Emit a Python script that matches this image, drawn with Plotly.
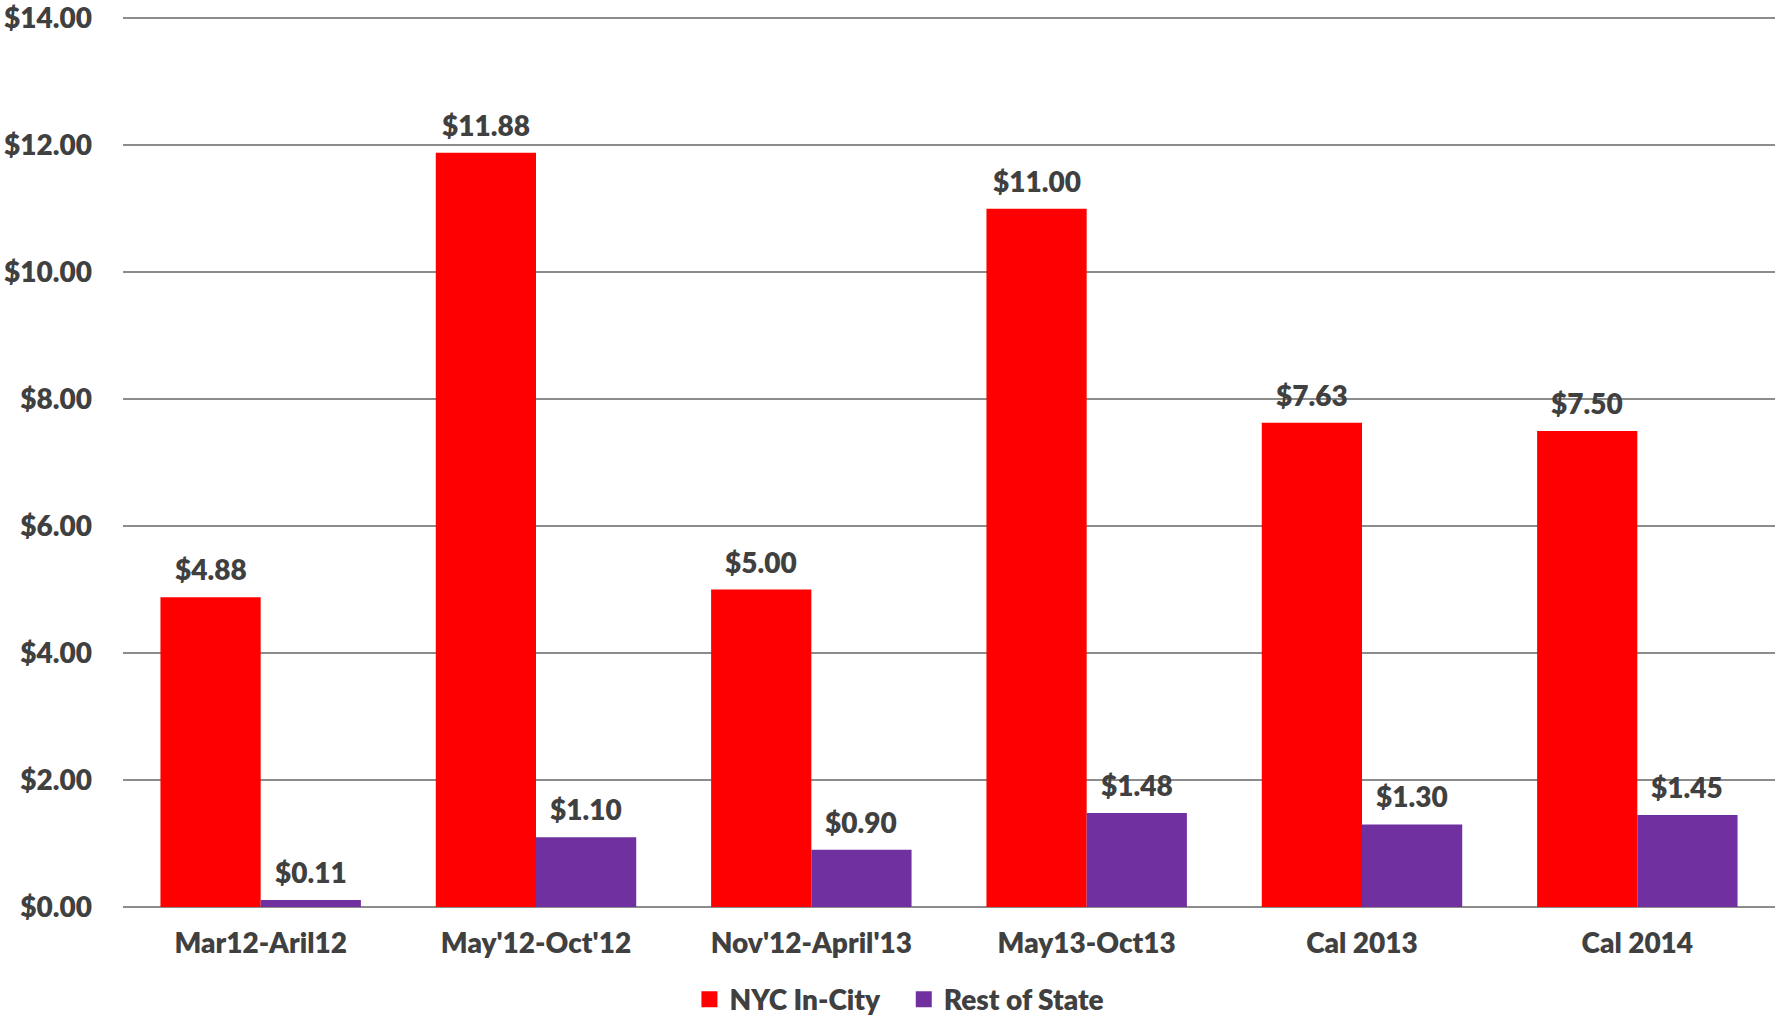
import plotly.graph_objects as go

categories = ["Mar12-Aril12", "May'12-Oct'12", "Nov'12-April'13", "May13-Oct13", "Cal 2013", "Cal 2014"]
nyc_values = [4.88, 11.88, 5.00, 11.00, 7.63, 7.50]
rest_values = [0.11, 1.10, 0.90, 1.48, 1.30, 1.45]
series_names = ["NYC In-City", "Rest of State"]
series_colors = ["#FF0000", "#7030A0"]
y_ticks = [0, 2, 4, 6, 8, 10, 12, 14]

FONT = "Lato"
TXT = "#404040"
FS = 28
W = 800

fig = go.Figure()
for i, (name, vals, col) in enumerate(zip(series_names, [nyc_values, rest_values], series_colors)):
    fig.add_trace(go.Bar(
        x=categories, y=vals, name=name, marker=dict(color=col, line=dict(width=0)),
        showlegend=False, cliponaxis=False,
    ))
    fig.add_trace(go.Scatter(
        x=[None], y=[None], mode="markers",
        name=name + ("\u00a0\u00a0\u00a0" if i == 0 else ""),
        marker=dict(symbol="square", size=16, color=col), showlegend=True,
    ))

annotations = []
for vals, shift in [(nyc_values, -50), (rest_values, 50)]:
    for c, v in zip(categories, vals):
        annotations.append(dict(
            x=c, y=v, xref="x", yref="y", text=f"${v:.2f}", showarrow=False,
            xshift=shift, yshift=9, yanchor="bottom",
            font=dict(family=FONT, size=FS, color=TXT, weight=W),
        ))

fig.update_layout(
    width=1775, height=1017,
    margin=dict(l=123, r=0, t=17, b=110, autoexpand=False),
    paper_bgcolor="white", plot_bgcolor="white",
    barmode="group", bargap=0.272, bargroupgap=0,
    font=dict(family=FONT, size=FS, color=TXT, weight=W),
    annotations=annotations,
    legend=dict(orientation="h", x=0.47, xanchor="center", y=-0.104, yanchor="middle",
                font=dict(family=FONT, size=FS, color=TXT, weight=W),
                itemsizing="trace", traceorder="normal", itemwidth=30),
    xaxis=dict(showgrid=False, showline=False, ticks="", automargin=False,
               ticklabelstandoff=17, tickfont=dict(size=FS, color=TXT, weight=W)),
    yaxis=dict(range=[0, 14.02], tickvals=y_ticks, ticktext=[f"${t:.2f}" for t in y_ticks],
               showgrid=True, gridcolor="#8C8C8C", gridwidth=1.5, zeroline=True,
               zerolinecolor="#8C8C8C", zerolinewidth=1.5, showline=False, ticks="",
               automargin=False, ticklabelstandoff=30,
               tickfont=dict(size=FS, color=TXT, weight=W)),
)

fig.write_html("out.html", config={"displayModeBar": False})
with open("out.html", encoding="utf-8") as f:
    html = f.read()
html = html.replace("<body>", '<body style="margin:0;padding:0;overflow:hidden">', 1)
with open("out.html", "w", encoding="utf-8") as f:
    f.write(html)
